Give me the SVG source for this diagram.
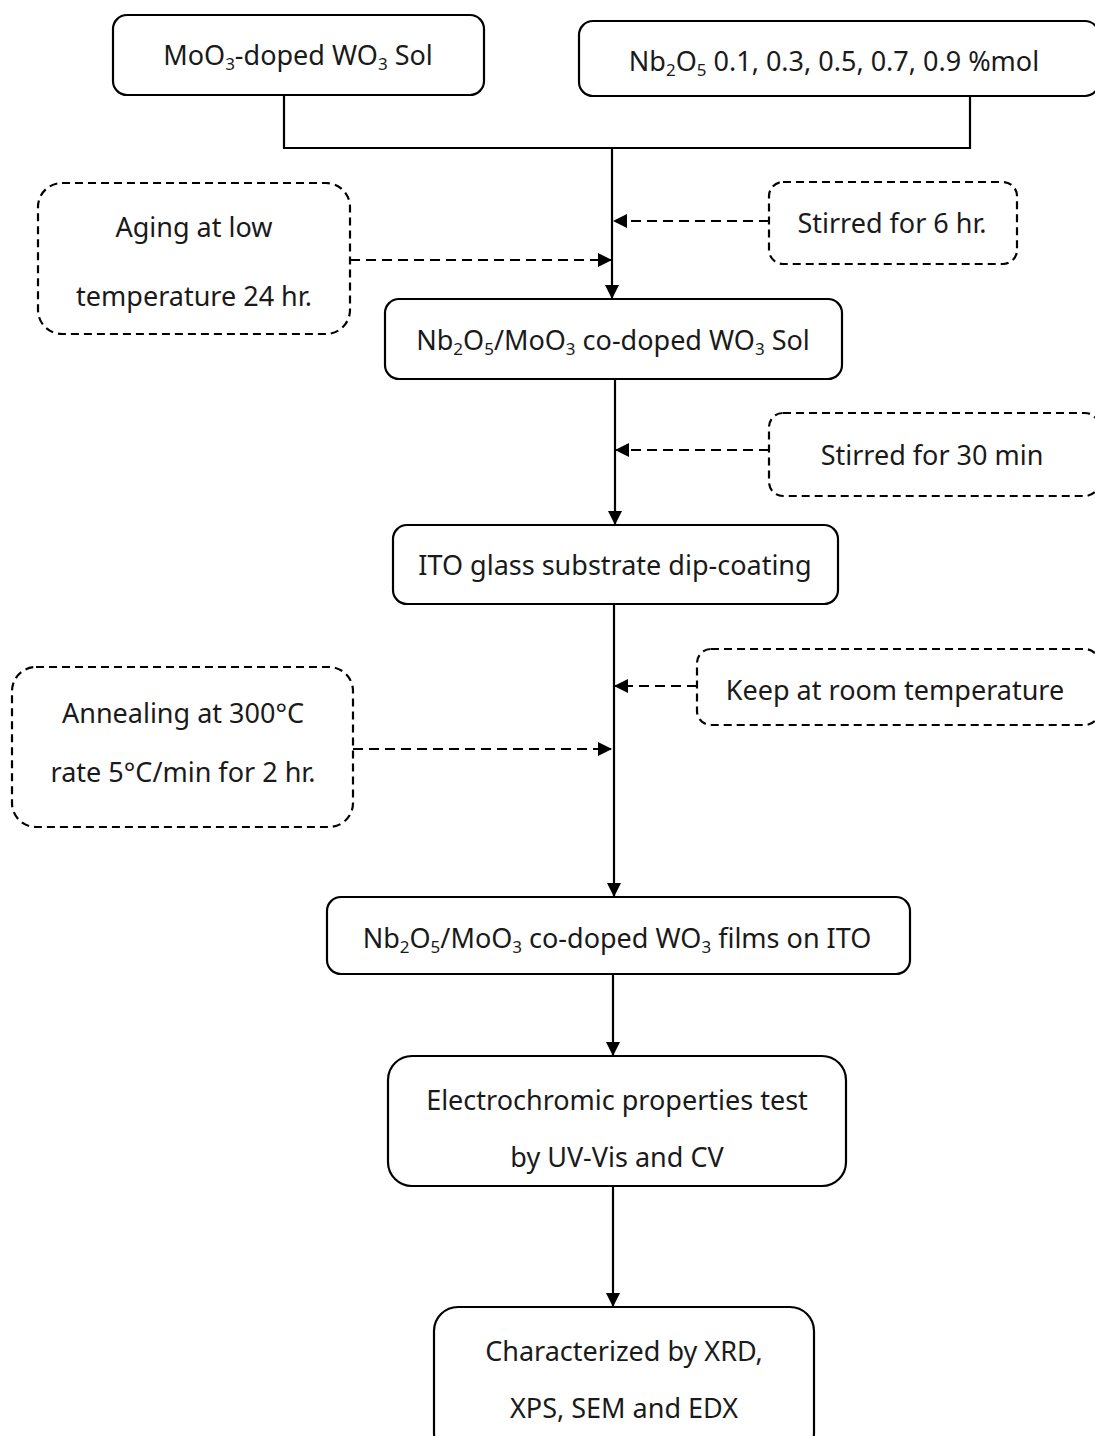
<svg xmlns="http://www.w3.org/2000/svg" width="1095" height="1436" viewBox="0 0 1095 1436">
<style>
.box{fill:#fff;stroke:#000;stroke-width:2.2}
.dbox{fill:#fff;stroke:#000;stroke-width:2.2;stroke-dasharray:8 5}
.t{font-family:"Noto Sans","Open Sans",sans-serif;font-size:27px;fill:#1a1a1a;text-anchor:middle}
.s{font-size:17px}
.ln{fill:none;stroke:#000;stroke-width:2.2}
.dl{fill:none;stroke:#000;stroke-width:2.2;stroke-dasharray:10 6}
</style>
<defs>
<marker id="ah" markerWidth="14" markerHeight="14" refX="13" refY="7" orient="auto" markerUnits="userSpaceOnUse">
<path d="M0,0 L14,7 L0,14 Z" fill="#000"/>
</marker>
</defs>
<rect width="1095" height="1436" fill="#fff"/>
<g id="connectors">
<path class="ln" d="M284,95 V148 H970 V96"/>
<path class="ln" d="M612,148 V298" marker-end="url(#ah)"/>
<path class="dl" d="M769,221 H614" marker-end="url(#ah)"/>
<path class="dl" d="M350,260 H611" marker-end="url(#ah)"/>
<path class="ln" d="M615,379 V524" marker-end="url(#ah)"/>
<path class="dl" d="M769,450 H616" marker-end="url(#ah)"/>
<path class="ln" d="M614,604 V896" marker-end="url(#ah)"/>
<path class="dl" d="M697,686 H615" marker-end="url(#ah)"/>
<path class="dl" d="M353,749 H611" marker-end="url(#ah)"/>
<path class="ln" d="M613,974 V1055" marker-end="url(#ah)"/>
<path class="ln" d="M613,1186 V1306" marker-end="url(#ah)"/>
</g>
<g id="n1">
<rect class="box" x="113" y="15" width="371" height="80" rx="14"/>
<text class="t" x="298" y="65">MoO<tspan class="s" dy="5">3</tspan><tspan dy="-5">-doped WO</tspan><tspan class="s" dy="5">3</tspan><tspan dy="-5"> Sol</tspan></text>
</g>
<g id="n2">
<rect class="box" x="579" y="21" width="520" height="75" rx="14"/>
<text class="t" x="834" y="71">Nb<tspan class="s" dy="5">2</tspan><tspan dy="-5">O</tspan><tspan class="s" dy="5">5</tspan><tspan dy="-5"> 0.1, 0.3, 0.5, 0.7, 0.9 %mol</tspan></text>
</g>
<g id="n3">
<rect class="dbox" x="769" y="182" width="248" height="82" rx="14"/>
<text class="t" x="892" y="233">Stirred for 6 hr.</text>
</g>
<g id="n4">
<rect class="dbox" x="38" y="183" width="312" height="151" rx="24"/>
<text class="t" x="194" y="237">Aging at low</text>
<text class="t" x="194" y="306">temperature 24 hr.</text>
</g>
<g id="n5">
<rect class="box" x="385" y="299" width="457" height="80" rx="14"/>
<text class="t" x="613" y="350">Nb<tspan class="s" dy="5">2</tspan><tspan dy="-5">O</tspan><tspan class="s" dy="5">5</tspan><tspan dy="-5">/MoO</tspan><tspan class="s" dy="5">3</tspan><tspan dy="-5"> co-doped WO</tspan><tspan class="s" dy="5">3</tspan><tspan dy="-5"> Sol</tspan></text>
</g>
<g id="n6">
<rect class="dbox" x="769" y="413" width="330" height="83" rx="14"/>
<text class="t" x="932" y="465">Stirred for 30 min</text>
</g>
<g id="n7">
<rect class="box" x="393" y="525" width="445" height="79" rx="14"/>
<text class="t" x="615" y="575">ITO glass substrate dip-coating</text>
</g>
<g id="n8">
<rect class="dbox" x="697" y="649" width="402" height="76" rx="14"/>
<text class="t" x="895" y="700">Keep at room temperature</text>
</g>
<g id="n9">
<rect class="dbox" x="12" y="667" width="341" height="160" rx="24"/>
<text class="t" x="183" y="723">Annealing at 300°C</text>
<text class="t" x="183" y="782">rate 5°C/min for 2 hr.</text>
</g>
<g id="n10">
<rect class="box" x="327" y="897" width="583" height="77" rx="14"/>
<text class="t" x="617" y="948">Nb<tspan class="s" dy="5">2</tspan><tspan dy="-5">O</tspan><tspan class="s" dy="5">5</tspan><tspan dy="-5">/MoO</tspan><tspan class="s" dy="5">3</tspan><tspan dy="-5"> co-doped WO</tspan><tspan class="s" dy="5">3</tspan><tspan dy="-5"> films on ITO</tspan></text>
</g>
<g id="n11">
<rect class="box" x="388" y="1056" width="458" height="130" rx="24"/>
<text class="t" x="617" y="1110">Electrochromic properties test</text>
<text class="t" x="617" y="1167">by UV-Vis and CV</text>
</g>
<g id="n12">
<rect class="box" x="434" y="1307" width="380" height="150" rx="24"/>
<text class="t" x="624" y="1361">Characterized by XRD,</text>
<text class="t" x="624" y="1418">XPS, SEM and EDX</text>
</g>
</svg>
